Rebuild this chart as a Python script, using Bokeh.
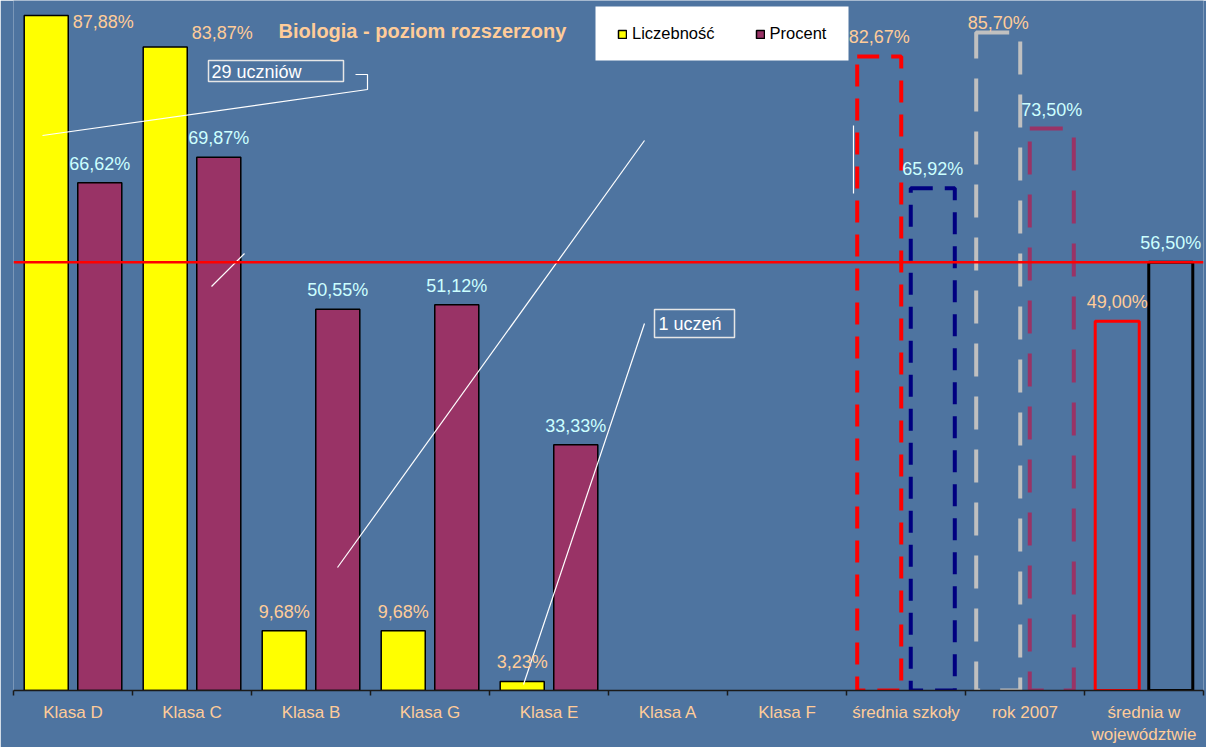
from bokeh.plotting import figure
from bokeh.models import (ColumnDataSource, Range1d, LinearAxis, FixedTicker,
                          Span, Label, LabelSet, Legend, LegendItem)
from bokeh.core.properties import value
from bokeh.embed import file_html
from bokeh.resources import INLINE

# ---------------- data ----------------
categories = ["Klasa D", "Klasa C", "Klasa B", "Klasa G", "Klasa E", "Klasa A", "Klasa F",
              "średnia szkoły", "rok 2007", "średnia w\nwojewództwie"]
liczebnosc = [87.88, 83.87, 9.68, 9.68, 3.23, None, None, 82.67, 85.70, 49.00]
procent = [66.62, 69.87, 50.55, 51.12, 33.33, None, None, 65.92, 73.50, 56.50]
series_names = ["Liczebność", "Procent"]
title_text = "Biologia - poziom rozszerzony"
note_29 = "29 uczniów"
note_1 = "1 uczeń"

# ---------------- styles / layout ----------------
BG = "#4E74A0"
YELLOW = "#FFFF00"
PURPLE = "#993366"
PEACH = "#FFCC99"
CYAN = "#CCFFFF"
FONT = "Liberation Sans"
Y_MIN, Y_MAX = 2.08, 89.78
OFF = 0.225
BAR_W = 0.37

summary_styles = {
    "średnia szkoły": (("#FF0000", "22 12", 4), ("#000080", "22 12", 4)),
    "rok 2007": (("#C0C0C0", "33 20", 4), ("#993366", "33 20", 4)),
    "średnia w\nwojewództwie": (("#FF0000", "solid", 3), ("#000000", "solid", 3)),
}
# label nudges (screen px: dx right, dy up) for the first series
shift_l = {"Klasa D": (57, -7), "Klasa C": (57, 14), "rok 2007": (0, 10)}
DEFAULT_DY = 19

n = len(categories)

def xpos(cat, off):
    """category slot centre (slot i spans [i, i+1]) plus dodge offset"""
    return categories.index(cat) + 0.5 + off

p = figure(width=1206, height=747,
           x_range=Range1d(0, n),
           y_range=Range1d(Y_MIN, Y_MAX),
           output_backend="svg", toolbar_location=None,
           x_axis_location=None, y_axis_location=None,
           min_border_left=13, min_border_right=3, min_border_top=0, min_border_bottom=57,
           background_fill_color=BG, border_fill_color=BG, outline_line_color=None)
p.xgrid.grid_line_color = None
p.ygrid.grid_line_color = None

p.extra_x_ranges = {"px": Range1d(13, 1203)}
p.extra_y_ranges = {"px": Range1d(690, 0)}

ax = LinearAxis(ticker=FixedTicker(ticks=[i + 0.5 for i in range(n)],
                                   minor_ticks=list(range(n + 1))),
                major_label_overrides={i + 0.5: c for i, c in enumerate(categories)})
ax.major_tick_line_color = None
ax.major_tick_out = 0
ax.major_tick_in = 0
ax.minor_tick_out = 5
ax.minor_tick_in = 0
ax.minor_tick_line_color = "#1A1A1A"
ax.minor_tick_line_width = 1.5
ax.axis_line_color = "#1A1A1A"
ax.axis_line_width = 1.5
ax.major_label_standoff = 7
ax.major_label_text_font = FONT
ax.major_label_text_font_size = "17px"
ax.major_label_text_color = PEACH
p.add_layout(ax, "below")

# ---------------- regular bars ----------------
reg = [c for i, c in enumerate(categories) if c not in summary_styles
       and liczebnosc[i] is not None and procent[i] is not None]
src_reg = ColumnDataSource(dict(
    xl=[xpos(c, -OFF) for c in reg], xp=[xpos(c, OFF) for c in reg],
    liczebnosc=[liczebnosc[categories.index(c)] for c in reg],
    procent=[procent[categories.index(c)] for c in reg]))
r_y = p.vbar(x="xl", top="liczebnosc", bottom=Y_MIN, width=BAR_W, source=src_reg,
             fill_color=YELLOW, line_color="black", line_width=1.5)
r_p = p.vbar(x="xp", top="procent", bottom=Y_MIN, width=BAR_W, source=src_reg,
             fill_color=PURPLE, line_color="black", line_width=1.5)

# ---------------- summary (outlined) bars ----------------
for name, (st_l, st_p) in summary_styles.items():
    i = categories.index(name)
    for vals, off, (col, dash, lw) in ((liczebnosc, -OFF, st_l), (procent, OFF, st_p)):
        src = ColumnDataSource(dict(x=[xpos(name, off)], top=[vals[i]]))
        p.vbar(x="x", top="top", bottom=Y_MIN, width=BAR_W, source=src,
               fill_color=None, line_color=col, line_dash=dash, line_width=lw)

# ---------------- value labels ----------------
def fmt(v):
    return f"{v:.2f}".replace(".", ",") + "%"

def label_source(values, shifts, off):
    cats = [c for i, c in enumerate(categories) if values[i] is not None]
    return ColumnDataSource(dict(
        x=[xpos(c, off) for c in cats],
        val=[values[categories.index(c)] for c in cats],
        txt=[fmt(values[categories.index(c)]) for c in cats],
        dx=[shifts.get(c, (0, DEFAULT_DY))[0] for c in cats],
        dy=[shifts.get(c, (0, DEFAULT_DY))[1] for c in cats],
    ))

for vals, shifts, off, col in ((liczebnosc, shift_l, -OFF, PEACH), (procent, {}, OFF, CYAN)):
    ls = LabelSet(x="x", y="val", text="txt", x_offset="dx", y_offset="dy",
                  source=label_source(vals, shifts, off),
                  text_align="center", text_baseline="middle",
                  text_font=value(FONT), text_font_size=value("18px"), text_color=col)
    p.add_layout(ls)

# ---------------- reference line (average of the voivodeship) ----------------
p.add_layout(Span(location=procent[-1], dimension="width",
                  line_color="#FF0000", line_width=2.5))

# ---------------- callouts (page-pixel annotation space) ----------------
LINE_C = "#FFFFFF"
p.line(x=[42, 367, 367, 355], y=[135, 89, 74, 74], x_range_name="px", y_range_name="px",
       line_color=LINE_C, line_width=1.2)
p.segment(x0=[211, 337, 644, 853], y0=[286, 567, 323, 125],
          x1=[244, 644, 523, 853], y1=[253, 140, 684, 193],
          x_range_name="px", y_range_name="px", line_color=LINE_C, line_width=1.2)
p.quad(left=[208, 654], right=[343, 734], top=[60, 309], bottom=[81, 337],
       x_range_name="px", y_range_name="px", fill_color=None,
       line_color="#E6E6E6", line_width=1.5)
for tx, x, y in ((note_29, 211, 71), (note_1, 658, 323)):
    p.add_layout(Label(x=x, y=y, x_range_name="px", y_range_name="px", text=tx,
                       text_align="left", text_baseline="middle", text_font=FONT,
                       text_font_size="18px", text_color="white"))

p.add_layout(Label(x=422, y=30, x_range_name="px", y_range_name="px", text=title_text,
                   text_align="center", text_baseline="middle", text_font=FONT,
                   text_font_size="20px", text_font_style="bold", text_color=PEACH))

# ---------------- legend (white panel + items) ----------------
p.quad(left=[595], right=[848], top=[6], bottom=[60], x_range_name="px", y_range_name="px",
       fill_color="white", line_color=None)
legend = Legend(items=[LegendItem(label=series_names[0], renderers=[r_y]),
                       LegendItem(label=series_names[1], renderers=[r_p])],
                orientation="horizontal", location=(604, 647), padding=0, spacing=40,
                margin=0, label_standoff=5, glyph_width=10, glyph_height=10,
                label_text_font=FONT, label_text_font_size="16.5px", label_text_color="black",
                background_fill_alpha=0.0, border_line_color=None)
p.add_layout(legend, "center")

open("out.html", "w").write(file_html(p, INLINE, title=title_text))
